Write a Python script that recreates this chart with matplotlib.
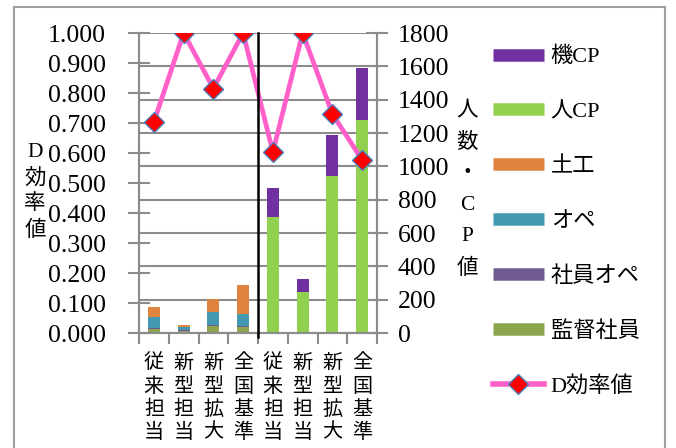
import numpy as np
import matplotlib.pyplot as plt
from matplotlib.lines import Line2D
from matplotlib.patches import Rectangle

SERIF = ['Liberation Serif', 'Noto Sans CJK JP']
CJK = ['Noto Sans CJK JP', 'Liberation Serif']
plt.rcParams['font.family'] = SERIF

categories = ['従来担当', '新型担当', '新型拡大', '全国基準',
              '従来担当', '新型担当', '新型拡大', '全国基準']

# stacked series (right axis, 人数・CP値), bottom to top
kantoku = [22, 12, 42, 38, 0, 0, 0, 0]        # 監督社員
shain_ope = [6, 6, 6, 4, 0, 0, 0, 0]          # 社員オペ
ope = [66, 18, 80, 70, 0, 0, 0, 0]            # オペ
doko = [60, 14, 76, 176, 0, 0, 0, 0]          # 土工
hito_cp = [0, 0, 0, 0, 698, 244, 942, 1278]   # 人CP
ki_cp = [0, 0, 0, 0, 172, 80, 246, 312]       # 機CP

# line series (left axis)
d_eff = [0.703, 1.000, 0.815, 1.000, 0.603, 1.000, 0.730, 0.577]

series = [
    ('監督社員', kantoku, '#8CA64E'),
    ('社員オペ', shain_ope, '#715A8F'),
    ('オペ', ope, '#4399B1'),
    ('土工', doko, '#DE843F'),
    ('人CP', hito_cp, '#92D050'),
    ('機CP', ki_cp, '#7030A0'),
]

grid_c = '#8c8c8c'
H = 448
fig = plt.figure(figsize=(6.76, 4.48), dpi=100)
ax = fig.add_axes([139 / 676, 1 - 333 / H, (377 - 139) / 676, 300 / H])
ax2 = ax.twinx()
ax.set_zorder(ax2.get_zorder() + 1)
ax.patch.set_visible(False)

x = np.arange(1, len(categories) + 1)
bottom = np.zeros(len(x))
for name, vals, col in series:
    ax2.bar(x, vals, 0.4, bottom=bottom, color=col, zorder=3)
    bottom += np.array(vals)

ax2.set_ylim(0, 1800)
ax2.set_yticks(np.arange(0, 1801, 200))
ax2.yaxis.grid(True, color=grid_c, lw=1.5, zorder=0)
ax2.set_axisbelow(True)

ax.plot(x, d_eff, color='#FF5FC8', lw=3.4, marker='D', markersize=10,
        markerfacecolor='#FF0000', markeredgecolor='#4A7EBB', mew=1, zorder=5)
ax.set_ylim(0, 1.0)
ax.set_yticks(np.arange(0, 1.01, 0.1))
ax.set_yticklabels([f'{v:.3f}' for v in np.arange(0, 1.01, 0.1)])
ax.set_xlim(0.5, len(x) + 0.5)

ax.axvline(4.5, ymin=-0.012, ymax=1, color='black', lw=1.8, clip_on=False, zorder=6)

for a in (ax, ax2):
    for s in a.spines.values():
        s.set_color(grid_c)
        s.set_linewidth(1.5)
    a.spines['top'].set_visible(False)

ax.set_xticks(x)
ax.set_xticklabels(['\n'.join(c) for c in categories], family=CJK, fontsize=14.5,
                   linespacing=1.13)
ax.set_xticks(np.arange(0.5, len(x) + 1, 1), minor=True)
ax.tick_params(axis='x', which='major', length=0, pad=14)
ax.tick_params(axis='x', which='minor', length=8, width=1.5, color=grid_c, direction='out')
ax.tick_params(axis='y', length=16, width=1.5, color=grid_c, direction='inout',
               labelsize=18.5, pad=16)
ax2.tick_params(axis='y', length=16, width=1.5, color=grid_c, direction='inout',
                labelsize=18.5, pad=7)

fig.text(35, H - 192, 'D\n効\n率\n値', transform=None, ha='center', va='center',
         fontsize=15.5, linespacing=1.4)
fig.text(467, H - 190, '人\n数\n・\nC\nP\n値', transform=None, ha='center', va='center',
         fontsize=15.5, linespacing=1.85)

handles = [Line2D([], [], color=col, lw=9, solid_capstyle='butt')
           for name, vals, col in series[::-1]]
handles.append(Line2D([], [], color='#FF5FC8', lw=4, marker='D', markersize=10,
                      markerfacecolor='#FF0000', markeredgecolor='#4A7EBB', mew=1))
labels = [name for name, vals, col in series[::-1]] + ['D効率値']
fig.legend(handles, labels, loc='upper left', bbox_to_anchor=(484 / 676, 1 - 38 / H),
           frameon=False, fontsize=16, handlelength=2.3, handletextpad=0.3,
           labelspacing=1.54, borderaxespad=0)

fig.patches.append(Rectangle((14 / 676, -0.02), (665 - 14) / 676, 1.02 - 7 / H,
                             transform=fig.transFigure, fill=False,
                             edgecolor='#a0a0a0', lw=1.5))

fig.savefig('out.png', dpi=100)
